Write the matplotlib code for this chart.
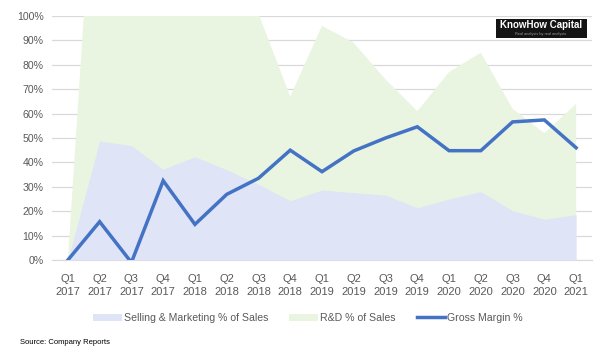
import matplotlib
matplotlib.use("Agg")
import matplotlib.pyplot as plt
from matplotlib.patches import Rectangle
from matplotlib.lines import Line2D
from matplotlib.patches import Patch

quarters = ["Q1\n2017", "Q2\n2017", "Q3\n2017", "Q4\n2017",
            "Q1\n2018", "Q2\n2018", "Q3\n2018", "Q4\n2018",
            "Q1\n2019", "Q2\n2019", "Q3\n2019", "Q4\n2019",
            "Q1\n2020", "Q2\n2020", "Q3\n2020", "Q4\n2020",
            "Q1\n2021"]
rd_pct = [0, 200, 150, 130, 120, 110, 101, 67, 96, 89, 74, 61, 77, 85, 62, 52, 64]
sm_pct = [0, 48.8, 46.9, 37.2, 42.3, 37, 31, 24.3, 28.7, 27.6, 26.6, 21.4, 25, 28, 20.2, 16.7, 18.6]
gm_pct = [0, 15.7, -1, 32.5, 14.6, 26.9, 33.5, 45, 36.2, 44.7, 50, 54.6, 44.8, 44.8, 56.6, 57.4, 46]
yticks = [0, 10, 20, 30, 40, 50, 60, 70, 80, 90, 100]

plt.rcParams['font.family'] = ['Liberation Sans', 'DejaVu Sans']

fig = plt.figure(figsize=(6.07, 3.56), dpi=100)
ax = fig.add_axes([52/607, 1-260/356, (592-52)/607, (260-16)/356])

x = list(range(len(quarters)))
green = "#e9f5e1"
blue = "#dfe4f6"
line_c = "#4472c4"

ax.fill_between(x, 0, rd_pct, color=green, lw=0, zorder=2)
ax.fill_between(x, 0, sm_pct, color=blue, lw=0, zorder=3)
ax.plot(x, gm_pct, color=line_c, lw=2.5, zorder=4, solid_joinstyle='miter')

ax.set_xlim(-0.5, len(quarters) - 0.5)
ax.set_ylim(0, 100)
ax.set_yticks(yticks)
ax.set_yticklabels([f"{v}%" for v in yticks])
ax.set_xticks(x)
ax.set_xticklabels(quarters, linespacing=1.35)
ax.yaxis.grid(True, color="#d9d9d9", lw=0.9, zorder=1)
ax.set_axisbelow(True)
for s in ax.spines.values():
    s.set_visible(False)
ax.spines['bottom'].set_visible(True)
ax.spines['bottom'].set_color("#d9d9d9")
ax.tick_params(axis='both', length=0, colors="#595959", labelsize=7.6)
ax.tick_params(axis='x', pad=10, labelsize=8)
ax.tick_params(axis='y', pad=6)

handles = [Patch(facecolor=blue, edgecolor='none'),
           Patch(facecolor=green, edgecolor='none'),
           Line2D([0], [0], color=line_c, lw=2.5)]
labels = ["Selling & Marketing % of Sales", "R&D % of Sales", "Gross Margin %"]
fig.legend(handles, labels, loc='center', bbox_to_anchor=(308/607, 1-318/356),
           ncol=3, frameon=False, fontsize=7.6, labelcolor="#595959",
           handlelength=2.7, handleheight=0.7, handletextpad=0.2, columnspacing=2.0)

fig.text(20/607, 1-342/356, "Source: Company Reports", fontsize=5.5, color="#000000",
         va='center', ha='left')

# logo
fig.patches.append(Rectangle((496/607, 1-38/356), 91/607, 19/356, transform=fig.transFigure,
                             facecolor="#141414", edgecolor='none', zorder=10))
fig.text(541/607, 1-25/356, "KnowHow Capital", color="white", fontsize=7, fontweight='bold',
         ha='center', va='center', zorder=11)
fig.text(541/607, 1-34/356, "Real analysis by real analysts", color="#9a9a9a", fontsize=2.8,
         ha='center', va='center', zorder=11)

fig.savefig("out.png", dpi=100)
